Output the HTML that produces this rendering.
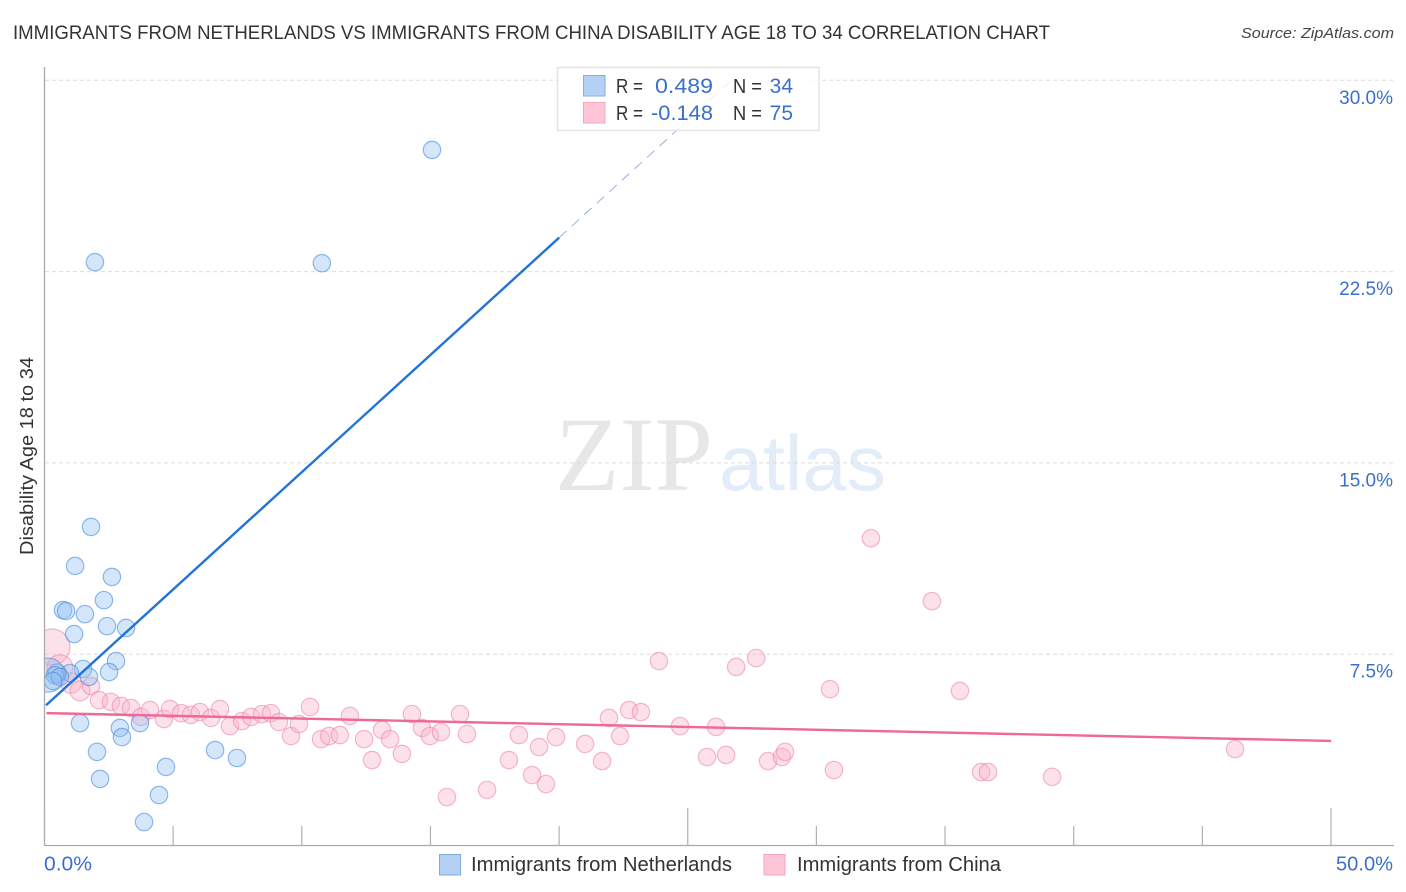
<!DOCTYPE html>
<html lang="en">
<head>
<meta charset="utf-8">
<title>Immigrants from Netherlands vs Immigrants from China Disability Age 18 to 34 Correlation Chart</title>
<style>
html,body{margin:0;padding:0;background:#fff;width:1406px;height:892px;overflow:hidden}
svg{display:block}
text{font-family:"Liberation Sans",sans-serif}
</style>
</head>
<body>
<svg id="chart" xmlns="http://www.w3.org/2000/svg" width="1406" height="892" viewBox="0 0 1406 892">
  <defs>
    <clipPath id="plot-clip"><rect x="45" y="60" width="1349" height="785"/></clipPath>
  </defs>
  <rect x="0" y="0" width="1406" height="892" fill="#fff"/>
  <text x="13" y="39" font-size="19" fill="#333" textLength="1037" lengthAdjust="spacingAndGlyphs">IMMIGRANTS FROM NETHERLANDS VS IMMIGRANTS FROM CHINA DISABILITY AGE 18 TO 34 CORRELATION CHART</text>
  <text x="1394" y="38" font-size="15" font-style="italic" fill="#444" text-anchor="end" textLength="153" lengthAdjust="spacingAndGlyphs">Source: ZipAtlas.com</text>
  <g>
    <text x="555" y="490" font-size="106" fill="#e7e7e7" style="font-family:'Liberation Serif',serif" textLength="158" lengthAdjust="spacingAndGlyphs">ZIP</text>
    <text x="719" y="490" font-size="78" fill="#e3ecf9" textLength="167" lengthAdjust="spacingAndGlyphs">atlas</text>
  </g>
  <g id="grid"></g>
  <g id="axes"></g>
  <g id="points" clip-path="url(#plot-clip)"></g>
  <g id="trends"></g>
  <g id="tick-labels"></g>
  <text transform="translate(33,555) rotate(-90)" font-size="18" fill="#333" textLength="198" lengthAdjust="spacingAndGlyphs">Disability Age 18 to 34</text>

  <g>
    <rect x="557.5" y="67.5" width="261.5" height="63" fill="#fff" fill-opacity="0.8" stroke="#e4e4e4" stroke-width="1.5"/>
    <rect x="583.5" y="75.5" width="21.5" height="20.5" fill="#b5d0f5" stroke="#86aee6" stroke-width="1"/>
    <rect x="583.5" y="102.5" width="21.5" height="20.5" fill="#fec5d7" stroke="#f4a6bf" stroke-width="1"/>
    <text x="616" y="93" font-size="20" fill="#333" textLength="27" lengthAdjust="spacingAndGlyphs">R =</text>
    <text x="655" y="93" font-size="21" fill="#3a70cc" textLength="58" lengthAdjust="spacingAndGlyphs">0.489</text>
    <text x="733" y="93" font-size="20" fill="#333" textLength="29" lengthAdjust="spacingAndGlyphs">N =</text>
    <text x="793" y="93" font-size="21" fill="#3a70cc" text-anchor="end">34</text>
    <text x="616" y="120" font-size="20" fill="#333" textLength="27" lengthAdjust="spacingAndGlyphs">R =</text>
    <text x="651" y="120" font-size="21" fill="#3a70cc" textLength="62" lengthAdjust="spacingAndGlyphs">-0.148</text>
    <text x="733" y="120" font-size="20" fill="#333" textLength="29" lengthAdjust="spacingAndGlyphs">N =</text>
    <text x="793" y="120" font-size="21" fill="#3a70cc" text-anchor="end">75</text>
  </g>

  <g>
    <g>
      <rect x="439.5" y="854.5" width="21" height="20.5" fill="#b5d0f5" stroke="#7faae6" stroke-width="1"/>
      <text x="471" y="871" font-size="20" fill="#333" textLength="261" lengthAdjust="spacingAndGlyphs">Immigrants from Netherlands</text>
    </g>
    <g>
      <rect x="764" y="854.5" width="21" height="20.5" fill="#fec5d7" stroke="#f4a6bf" stroke-width="1"/>
      <text x="797" y="871" font-size="20" fill="#333" textLength="204" lengthAdjust="spacingAndGlyphs">Immigrants from China</text>
    </g>
  </g>
</svg>
<script>
const yTickValues = [7.5, 15, 22.5, 30];
const yTickLabels = ['7.5%', '15.0%', '22.5%', '30.0%'];
const xTickValues = [0, 5, 10, 15, 20, 25, 30, 35, 40, 45, 50];
const xMajorTicks = [0, 25, 50];
const xEndLabels = ['0.0%', '50.0%'];

const netherlandsX = [15.06,1.96,10.78,1.81,1.19,2.62,2.31,0.72,0.84,1.57,1.15,2.43,3.17,2.78,2.51,1.50,1.73,0.99,0.49,0.14,0.41,0.60,0.33,1.38,2.93,3.01,3.71,2.04,2.16,4.72,4.45,3.87,6.63,7.48];
const netherlandsY = [27.27,22.87,22.83,12.49,10.96,10.53,9.62,9.23,9.19,9.07,8.29,8.60,8.53,7.23,6.80,6.92,6.61,6.76,6.76,6.68,6.68,6.61,6.45,4.80,4.61,4.25,4.80,3.67,2.61,3.08,1.98,0.92,3.74,3.43];
const netherlandsWeight = [1,1,1,1,1,1,1,1,1,1,1,1,1,1,1,1,1,1,1.1,3.8,1,1,1,1,1,1,1,1,1,1,1,1,1,1];

const chinaX = [0.29,0.60,1.03,1.38,1.81,2.12,2.58,2.97,3.36,3.75,4.10,4.64,4.88,5.31,5.69,6.04,6.47,6.82,7.21,7.68,8.03,8.45,8.80,9.11,9.58,9.89,10.32,10.75,11.06,11.48,11.87,12.42,12.73,13.12,13.43,13.89,14.28,14.67,14.98,15.41,15.64,16.15,16.42,17.20,18.05,18.44,18.95,19.22,19.49,19.88,21.01,21.67,21.94,22.37,22.72,23.18,23.88,24.70,26.10,25.75,26.49,26.88,27.66,28.12,28.66,28.78,30.53,30.68,32.12,34.49,35.58,36.40,36.67,39.16,46.27];
const chinaY = [7.78,6.97,6.37,6.06,6.25,5.70,5.63,5.47,5.39,5.04,5.31,4.96,5.35,5.19,5.12,5.23,5.00,5.35,4.68,4.88,5.04,5.15,5.19,4.84,4.29,4.76,5.43,4.17,4.29,4.33,5.08,4.17,3.35,4.53,4.17,3.59,5.15,4.61,4.29,4.45,1.90,5.15,4.37,2.18,3.35,4.33,2.76,3.86,2.41,4.25,3.98,3.31,5.00,4.29,5.31,5.23,7.23,4.68,4.65,3.47,3.55,7.00,7.35,3.31,3.47,3.67,6.13,2.96,12.05,9.58,6.06,2.88,2.88,2.69,3.78];
const chinaWeight = [4.3,2.2,1.4,1.3,1,1,1,1,1,1,1,1,1,1,1,1,1,1,1,1,1,1,1,1,1,1,1,1,1,1,1,1,1,1,1,1,1,1,1,1,1,1,1,1,1,1,1,1,1,1,1,1,1,1,1,1,1,1,1,1,1,1,1,1,1,1,1,1,1,1,1,1,1,1,1];

const netherlandsTrendSolid = [[0.06, 5.50], [20, 23.83]];
const netherlandsTrendDashed = [[20, 23.83], [26.7, 30]];
const chinaTrend = [[0.08, 5.19], [50, 4.10]];

const xScale = v => 44.5 + (v / 50) * 1286.5;
const yScale = v => 845.5 - (v / 7.5) * 191.3;
const radiusOf = w => 8.7 * Math.sqrt(w);

const NS = 'http://www.w3.org/2000/svg';
function make(tag, parent, props) {
  const el = document.createElementNS(NS, tag);
  for (const k in props) el.setAttribute(k, props[k]);
  parent.appendChild(el);
  return el;
}

const gridGroup = document.getElementById('grid');
yTickValues.forEach(v => {
  const line = make('line', gridGroup, {x1: 45, x2: 1394, y1: yScale(v), y2: yScale(v), stroke: '#dcdcdc', 'stroke-width': 1, 'stroke-dasharray': '4 3'});
  
  
});

const axesGroup = document.getElementById('axes');
const yAxisLine = make('line', axesGroup, {x1: 44.5, x2: 44.5, y1: 67, y2: 846, stroke: '#aaa', 'stroke-width': 1.3});


const xAxisLine = make('line', axesGroup, {x1: 44, x2: 1394, y1: 845.5, y2: 845.5, stroke: '#aaa', 'stroke-width': 1.3});


xTickValues.forEach(v => {
  const top = xMajorTicks.includes(v) ? 808 : 826;
  const tick = make('line', axesGroup, {x1: xScale(v), x2: xScale(v), y1: top, y2: 845.5, stroke: '#b0b0b0', 'stroke-width': 1.2});
  
  
});

const labelGroup = document.getElementById('tick-labels');
yTickValues.forEach((v, i) => {
  const label = make('text', labelGroup, {x: 1393, y: yScale(v) + 23.5, 'font-size': 19, fill: '#3a70cc', 'text-anchor': 'end'});
  label.textContent = yTickLabels[i];
  
  
});
const xLabelStart = make('text', labelGroup, {x: 44, y: 870.5, 'font-size': 20, fill: '#3a70cc', textLength: 48, lengthAdjust: 'spacingAndGlyphs'});
xLabelStart.textContent = xEndLabels[0];


const xLabelEnd = make('text', labelGroup, {x: 1336, y: 870.5, 'font-size': 20, fill: '#3a70cc', textLength: 57, lengthAdjust: 'spacingAndGlyphs'});
xLabelEnd.textContent = xEndLabels[1];



const pointGroup = document.getElementById('points');
chinaX.forEach((v, i) => {
  const c = make('circle', pointGroup, {cx: xScale(v), cy: yScale(chinaY[i]), r: radiusOf(chinaWeight[i]), fill: '#fbb4ca', 'fill-opacity': 0.4, stroke: '#ec7fa3', 'stroke-opacity': 0.55, 'stroke-width': 1.2});
  
  
});
netherlandsX.forEach((v, i) => {
  const c = make('circle', pointGroup, {cx: xScale(v), cy: yScale(netherlandsY[i]), r: radiusOf(netherlandsWeight[i]), fill: '#8fbcf2', 'fill-opacity': 0.38, stroke: '#4f8fe0', 'stroke-opacity': 0.62, 'stroke-width': 1.2});
  
  
});

const trendGroup = document.getElementById('trends');
const dashTrend = make('line', trendGroup, {x1: xScale(netherlandsTrendDashed[0][0]), y1: yScale(netherlandsTrendDashed[0][1]), x2: xScale(netherlandsTrendDashed[1][0]), y2: yScale(netherlandsTrendDashed[1][1]), stroke: '#8ea8de', 'stroke-width': 0.9, 'stroke-dasharray': '10 7'});


const solidTrend = make('line', trendGroup, {x1: xScale(netherlandsTrendSolid[0][0]), y1: yScale(netherlandsTrendSolid[0][1]), x2: xScale(netherlandsTrendSolid[1][0]), y2: yScale(netherlandsTrendSolid[1][1]), stroke: '#2272d8', 'stroke-width': 2.4});


const pinkTrend = make('line', trendGroup, {x1: xScale(chinaTrend[0][0]), y1: yScale(chinaTrend[0][1]), x2: xScale(chinaTrend[1][0]), y2: yScale(chinaTrend[1][1]), stroke: '#ee6a96', 'stroke-width': 2.4});


</script>
</body>
</html>
